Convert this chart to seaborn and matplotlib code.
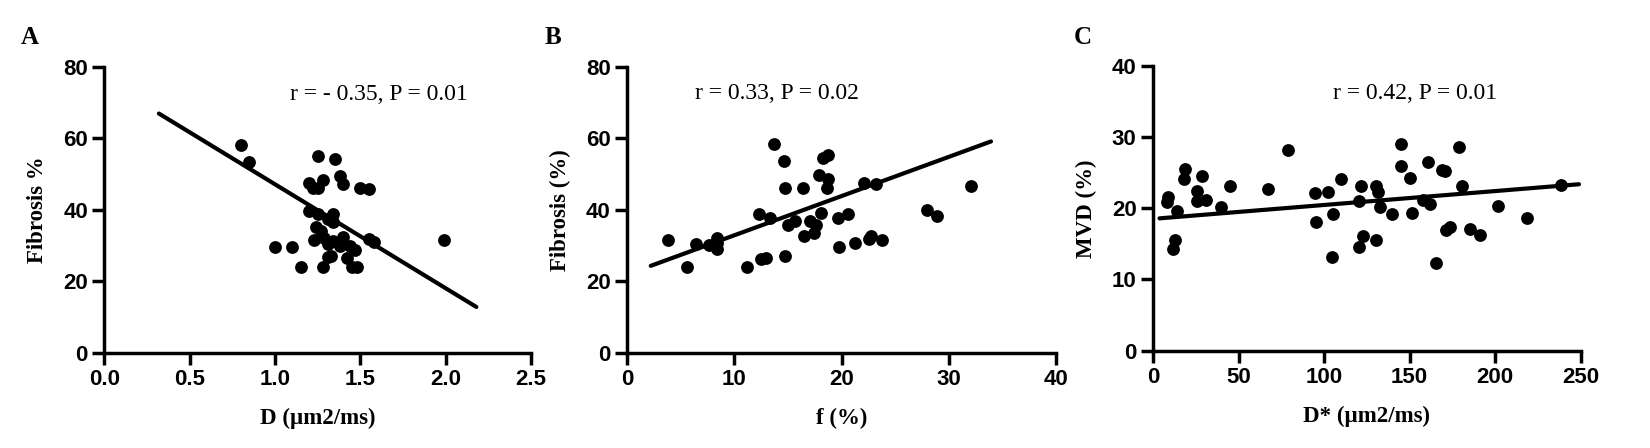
import matplotlib
matplotlib.use("Agg")
import matplotlib.pyplot as plt
import seaborn as sns

# estilo: fundo branco, so eixos esquerdo e inferior, texto preto
sns.set_theme(style="ticks", rc={"axes.edgecolor": "black", "xtick.color": "black", "ytick.color": "black",
                                 "text.color": "black", "axes.labelcolor": "black"})
plt.rcParams['font.family'] = ['Liberation Sans', 'DejaVu Sans']

# ---------------- dados ----------------
# A: D x Fibrosis %
a_x = [0.80, 0.85, 1.00, 1.10, 1.15, 1.25, 1.35, 1.20, 1.22, 1.25, 1.28, 1.38, 1.40, 1.50, 1.55,
       1.20, 1.25, 1.34, 1.31, 1.34, 1.24, 1.27, 1.23, 1.29, 1.31, 1.34, 1.38, 1.40, 1.44, 1.47,
       1.31, 1.33, 1.42, 1.28, 1.45, 1.48, 1.55, 1.58, 1.99]
a_y = [58.2, 53.4, 29.5, 29.5, 23.9, 55.1, 54.1, 47.4, 46.0, 46.0, 48.2, 49.4, 47.2, 46.1, 45.7,
       39.6, 38.8, 38.8, 37.4, 36.5, 35.3, 34.1, 31.5, 32.1, 30.4, 31.3, 29.9, 32.5, 29.9, 28.7,
       26.8, 27.1, 26.4, 23.9, 23.9, 24.0, 31.8, 30.9, 31.5]
a_fit_x = [0.32, 2.18]
a_fit_y = [66.9, 12.8]

# B: f x Fibrosis (%)
b_x = [3.8, 5.6, 6.4, 7.6, 8.4, 8.4, 8.4, 11.2, 12.5, 12.9, 12.3, 13.3, 13.7, 14.6, 14.75,
       14.75, 15.0, 15.6, 16.4, 16.5, 17.0, 17.4, 17.6, 17.9, 18.1, 18.25, 18.7, 18.7, 18.6, 19.6,
       19.7, 20.6, 21.2, 22.1, 22.5, 22.7, 23.2, 23.7, 27.9, 28.9, 32.0]
b_y = [31.5, 24.1, 30.3, 30.1, 32.2, 30.8, 28.9, 24.1, 26.3, 26.6, 38.7, 37.8, 58.4, 53.7, 46.0,
       27.1, 35.7, 36.9, 46.0, 32.7, 36.9, 33.6, 35.7, 49.8, 39.2, 54.6, 55.4, 48.6, 46.2, 37.8,
       29.7, 38.9, 30.8, 47.6, 31.7, 32.7, 47.3, 31.6, 39.9, 38.3, 46.5]
b_fit_x = [2.2, 33.9]
b_fit_y = [24.3, 59.1]

# C: D* x MVD (%)
c_x = [8.1, 9.0, 14.0, 12.8, 11.7, 18.7, 18.3, 28.7, 25.7, 25.5, 30.9, 39.6, 45.3, 67.2, 78.9,
       94.7, 95.3, 102.1, 105.3, 104.5, 110.2, 120.2, 121.5, 120.2, 123.0, 130.4, 131.5, 130.4, 133.0,
       139.6, 145.3, 145.3, 150.2, 151.3, 158.1, 160.6, 161.7, 165.5, 168.7, 170.9, 171.5, 173.6,
       178.9, 180.4, 185.3, 191.5, 201.7, 218.7, 238.3]
c_y = [20.9, 21.6, 19.7, 15.6, 14.3, 25.6, 24.2, 24.5, 22.5, 21.0, 21.2, 20.2, 23.2, 22.8, 28.2,
       22.2, 18.1, 22.3, 19.2, 13.1, 24.2, 21.0, 23.2, 14.6, 16.1, 23.1, 22.3, 15.5, 20.2,
       19.2, 29.0, 25.9, 24.3, 19.3, 21.2, 26.5, 20.6, 12.3, 25.4, 25.3, 17.0, 17.4,
       28.7, 23.1, 17.1, 16.3, 20.4, 18.6, 23.3]
c_fit_x = [3.8, 249.1]
c_fit_y = [18.6, 23.4]

letras = ['A', 'B', 'C']
rotulos_x = ['D (µm2/ms)', 'f (%)', 'D* (µm2/ms)']
rotulos_y = ['Fibrosis %', 'Fibrosis (%)', 'MVD (%)']
textos_r = ['r = - 0.35, P = 0.01', 'r = 0.33, P = 0.02', 'r = 0.42, P = 0.01']
ticks_x = [[0.0, 0.5, 1.0, 1.5, 2.0, 2.5], [0, 10, 20, 30, 40], [0, 50, 100, 150, 200, 250]]
ticks_y = [[0, 20, 40, 60, 80], [0, 20, 40, 60, 80], [0, 10, 20, 30, 40]]

paineis = [(a_x, a_y, a_fit_x, a_fit_y), (b_x, b_y, b_fit_x, b_fit_y), (c_x, c_y, c_fit_x, c_fit_y)]

# ---------------- figura ----------------
fig = plt.figure(figsize=(16.5, 4.48), dpi=100)
posicoes = [[0.0632, 0.2127, 0.2586, 0.6384],
            [0.3801, 0.2127, 0.2602, 0.6384],
            [0.6988, 0.2176, 0.2591, 0.6344]]
pos_letras = [(30, 37), (553, 37), (1083, 37)]
pos_textos = [(1.09, 72.1), (6.3, 72.4), (105.3, 36.2)]
serif = ['Liberation Serif', 'DejaVu Serif']

for i, (xs, ys, fx, fy) in enumerate(paineis):
    ax = fig.add_axes(posicoes[i])
    sns.scatterplot(x=xs, y=ys, ax=ax, color='black', s=85, linewidth=0, clip_on=False)
    sns.lineplot(x=fx, y=fy, ax=ax, color='black', linewidth=3)

    ax.set_xlim(ticks_x[i][0], ticks_x[i][-1])
    ax.set_ylim(ticks_y[i][0], ticks_y[i][-1])
    ax.set_xticks(ticks_x[i])
    ax.set_yticks(ticks_y[i])
    if i == 0:
        ax.set_xticklabels([f'{t:.1f}' for t in ticks_x[i]])

    sns.despine(ax=ax)
    for lado in ['left', 'bottom']:
        ax.spines[lado].set_linewidth(2.5)
    ax.tick_params(axis='both', direction='out', length=8.3, width=2.5, labelsize=16, pad=3.5)
    for lab in ax.get_xticklabels() + ax.get_yticklabels():
        lab.set_fontweight('bold')

    ax.set_xlabel(rotulos_x[i], fontsize=16.5, fontweight='bold', family=serif, labelpad=13)
    ax.set_ylabel(rotulos_y[i], fontsize=16.5, fontweight='bold', family=serif, labelpad=11)

    ax.text(pos_textos[i][0], pos_textos[i][1], textos_r[i], fontsize=17, family=serif,
            ha='left', va='center')

    fig.text(pos_letras[i][0] / 1650, 1 - pos_letras[i][1] / 448, letras[i], fontsize=18,
             fontweight='bold', family=serif, ha='center', va='center')

fig.savefig('out.png', dpi=100)
